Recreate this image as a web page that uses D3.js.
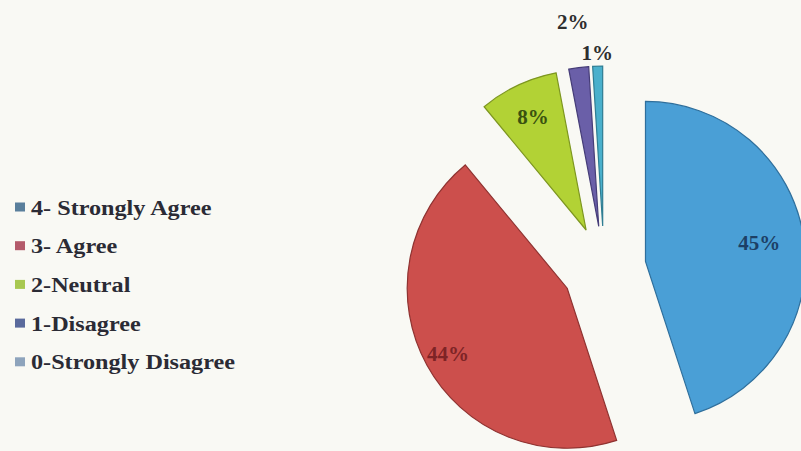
<!DOCTYPE html>
<html>
<head>
<meta charset="utf-8">
<script src="https://cdn.jsdelivr.net/npm/d3@7"></script>
<style>
  html, body { margin: 0; padding: 0; background: #f9f9f4; }
  svg { display: block; }
</style>
</head>
<body>
<svg id="chart" width="801" height="451"></svg>
<script>
// ---- data ----
const categories = ["4- Strongly Agree", "3- Agree", "2-Neutral", "1-Disagree", "0-Strongly Disagree"];
const values = [45, 44, 8, 2, 1];
const labels = ["45%", "44%", "8%", "2%", "1%"];

// ---- styles / layout ----
const colors = ["#4a9fd6", "#cc4f4c", "#b2d235", "#6a5fa8", "#4ab0cc"];
const strokeColors = ["#2f6f9c", "#8f3331", "#7d9620", "#463d78", "#2f7d92"];
const markerColors = ["#5a7f9c", "#b35a6a", "#a8c850", "#5a6a9c", "#8ea4bc"];
const labelColors = ["#1d3f66", "#7e2426", "#3a5210", "#2e2e2e", "#2e2e2e"];
const labelRadiusFactor = [0.72, 0.85, 0.78, 1.29, 1.08];

const W = 801, H = 451;
const cx = 604, cy = 268, R = 160, explode = 42;

const svg = d3.select("#chart");

svg.append("rect").attr("width", W).attr("height", H).attr("fill", "#f9f9f4");

const pie = d3.pie().sort(null).value(d => d.value)
  .startAngle(0).endAngle(2 * Math.PI);
const data = categories.map((c, i) => ({ name: c, value: values[i], label: labels[i], i }));
const arcs = pie(data);

const arc = d3.arc().innerRadius(0).outerRadius(R);

const g = svg.append("g").attr("transform", `translate(${cx},${cy})`);

const slice = g.selectAll("g.slice").data(arcs).enter().append("g")
  .attr("class", "slice")
  .attr("transform", d => {
    const mid = (d.startAngle + d.endAngle) / 2;
    return `translate(${explode * Math.sin(mid)},${-explode * Math.cos(mid)})`;
  });

slice.append("path")
  .attr("d", arc)
  .attr("fill", d => colors[d.data.i])
  .attr("stroke", d => strokeColors[d.data.i])
  .attr("stroke-width", 1.2);

slice.append("text")
  .attr("transform", d => {
    const r = R * labelRadiusFactor[d.data.i];
    const la = d3.arc().innerRadius(r).outerRadius(r);
    const [x, y] = la.centroid(d);
    return `translate(${x},${y})`;
  })
  .attr("text-anchor", "middle")
  .attr("dominant-baseline", "central")
  .attr("font-family", "'Liberation Serif', 'Times New Roman', serif")
  .attr("font-weight", "bold")
  .attr("font-size", 21)
  .attr("fill", d => labelColors[d.data.i])
  .text(d => d.data.label);

// legend
const legend = svg.append("g").attr("transform", "translate(15,207)");
const item = legend.selectAll("g").data(categories).enter().append("g")
  .attr("transform", (d, i) => `translate(0,${i * 38.7})`);
item.append("rect")
  .attr("x", 0).attr("y", -4.5).attr("width", 10).attr("height", 9)
  .attr("fill", (d, i) => markerColors[i]);
item.append("text")
  .attr("transform", "translate(16,0) scale(1.1,1)")
  .attr("dominant-baseline", "central")
  .attr("font-family", "'Liberation Serif', 'Times New Roman', serif")
  .attr("font-weight", "bold")
  .attr("font-size", 22)
  .attr("fill", "#2b2b35")
  .text(d => d);
</script>
</body>
</html>
